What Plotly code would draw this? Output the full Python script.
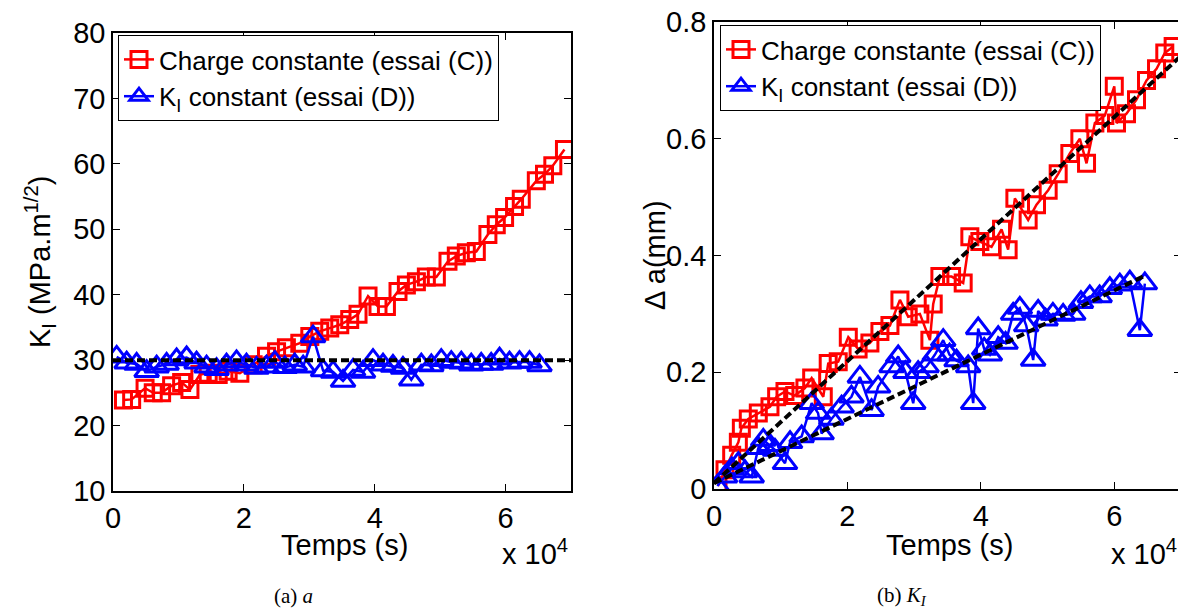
import plotly.graph_objects as go

# ---------------- data ----------------
# (a) K_I versus time
ka_t_red = [1600, 2850, 4900, 6150, 7430, 8960, 10490, 11760, 13280, 14550, 16080, 17600,
            19390, 21420, 23460, 25000, 26500, 28550, 30080, 31600, 33130, 34660, 36180,
            37450, 38980, 40500, 41790, 43560, 44840, 46370, 47890, 49420, 51200, 52470,
            54000, 55530, 57300, 58580, 59850, 61370, 62400, 64700, 65950, 67220, 69000]
ka_k_red = [23.9, 24.0, 25.7, 25.0, 25.0, 26.1, 26.6, 25.5, 27.8, 28.0, 27.8, 28.3,
            28.0, 29.3, 30.6, 31.3, 31.9, 32.6, 33.6, 34.4, 34.9, 35.4, 36.2,
            37.0, 39.8, 38.2, 38.2, 40.5, 41.5, 42.0, 42.7, 42.7, 45.1, 45.9,
            46.4, 46.6, 49.2, 50.7, 51.8, 53.5, 54.6, 57.4, 58.4, 59.7, 62.2]
ka_t_blue = [560, 2090, 3610, 5140, 6670, 8190, 9720, 11250, 12770, 14300, 15830, 17350,
             18880, 20400, 21930, 23460, 24730, 26260, 27780, 29060, 30580, 32110, 33640,
             35160, 36690, 38210, 39740, 41270, 42790, 44320, 45590, 47120, 48650, 50170,
             51700, 53230, 54750, 56280, 57800, 59080, 60600, 62130, 63660, 65180]
ka_k_blue = [30.5, 29.6, 29.4, 28.3, 29.0, 29.4, 30.1, 30.4, 29.6, 29.0, 28.6, 29.3,
             29.8, 29.3, 28.8, 29.0, 29.7, 28.9, 29.3, 29.0, 33.6, 28.4, 28.2,
             26.8, 28.5, 28.2, 30.0, 29.3, 29.1, 28.8, 27.0, 29.3, 29.2, 30.0,
             29.7, 29.6, 29.3, 29.4, 29.4, 30.2, 29.6, 29.7, 29.7, 29.2]
ka_ref_t = [0, 70000]
ka_ref_k = [30, 30]

# (b) crack extension versus time
da_t_red = [600, 1650, 2650, 3650, 4100, 5140, 6640, 8390, 9390, 10640, 12100, 13630,
            14640, 16380, 17120, 18620, 20130, 21600, 23370, 24870, 26370, 27870, 29110,
            30860, 32360, 32860, 33860, 35610, 37350, 38350, 39850, 41600, 43100, 44090,
            45100, 47090, 48340, 50090, 51590, 53340, 54840, 55840, 57090, 58590, 60000,
            60330, 61830, 63330, 64830, 66330, 67570, 68820]
da_a_red = [0.005, 0.033, 0.058, 0.080, 0.104, 0.120, 0.130, 0.141, 0.158, 0.167, 0.160, 0.173,
            0.190, 0.158, 0.215, 0.218, 0.260, 0.240, 0.250, 0.270, 0.280, 0.324, 0.295,
            0.300, 0.255, 0.317, 0.364, 0.364, 0.353, 0.432, 0.424, 0.415, 0.445, 0.410,
            0.498, 0.461, 0.487, 0.512, 0.540, 0.575, 0.600, 0.558, 0.627, 0.640, 0.690,
            0.627, 0.643, 0.667, 0.700, 0.720, 0.747, 0.758]
da_t_blue = [500, 1650, 2650, 3650, 4650, 5650, 6640, 7390, 8400, 9140, 10640, 11400,
             13140, 14640, 15600, 16130, 17600, 19130, 20600, 21870, 23620, 24600, 26620,
             27610, 28700, 29860, 30600, 31860, 33100, 34360, 35300, 36360, 38100, 38850,
             39600, 40500, 41350, 42600, 43700, 44840, 45840, 46800, 47840, 48590, 49700,
             50800, 52330, 53840, 55000, 56330, 57800, 59330, 60830, 62330, 63830, 64580]
da_a_blue = [0.005, 0.021, 0.035, 0.044, 0.030, 0.021, 0.070, 0.084, 0.075, 0.067, 0.044, 0.080,
             0.090, 0.147, 0.130, 0.095, 0.120, 0.141, 0.158, 0.192, 0.135, 0.175, 0.210,
             0.227, 0.200, 0.147, 0.200, 0.210, 0.230, 0.255, 0.230, 0.220, 0.210, 0.147,
             0.275, 0.240, 0.230, 0.260, 0.250, 0.300, 0.310, 0.280, 0.221, 0.305, 0.290,
             0.300, 0.298, 0.300, 0.320, 0.330, 0.330, 0.344, 0.350, 0.355, 0.272, 0.352]
fit_t_red = [0, 70000]
fit_a_red = [0.010, 0.742]
fit_t_blue = [0, 64500]
fit_a_blue = [0.010, 0.365]

x_ticks = [0, 20000, 40000, 60000]
x_ticktext = ["0", "2", "4", "6"]
ka_ticks = [10, 20, 30, 40, 50, 60, 70, 80]
da_ticks = [0, 0.2, 0.4, 0.6, 0.8]
da_ticktext = ["0", "0.2", "0.4", "0.6", "0.8"]

name_red = "Charge constante (essai (C))"
name_blue = "K<sub>I</sub> constant (essai (D))"

# ---------------- figure ----------------
OFF = 8                      # page body margin
W, H = 1186 - OFF, 611 - OFF
RED, BLUE = "#ff0000", "#0000ff"
FONT = "Liberation Sans, Arial, sans-serif"


def fx(x):
    return (x - OFF) / W


def fy(y):
    return 1 - (y - OFF) / H


fig = go.Figure()


def red_trace(x, y, xa, ya, leg):
    return go.Scatter(x=x, y=y, xaxis=xa, yaxis=ya, mode="lines+markers", name=name_red,
                      legend=leg, line=dict(color=RED, width=2.5),
                      marker=dict(symbol="square-open", size=16, color=RED, line=dict(width=3)))


def blue_trace(x, y, xa, ya, leg):
    return go.Scatter(x=x, y=y, xaxis=xa, yaxis=ya, mode="lines+markers", name=name_blue,
                      legend=leg, line=dict(color=BLUE, width=2.5),
                      marker=dict(symbol="triangle-up-open", size=21, color=BLUE, line=dict(width=3)))


fig.add_trace(red_trace(ka_t_red, ka_k_red, "x", "y", "legend"))
fig.add_trace(blue_trace(ka_t_blue, ka_k_blue, "x", "y", "legend"))
fig.add_trace(go.Scatter(x=ka_ref_t, y=ka_ref_k, xaxis="x", yaxis="y", mode="lines",
                         showlegend=False, line=dict(color="black", width=4, dash="8px,4px")))

fig.add_trace(red_trace(da_t_red, da_a_red, "x2", "y2", "legend2"))
fig.add_trace(blue_trace(da_t_blue, da_a_blue, "x2", "y2", "legend2"))
fig.add_trace(go.Scatter(x=fit_t_red, y=fit_a_red, xaxis="x2", yaxis="y2", mode="lines",
                         showlegend=False, line=dict(color="black", width=4, dash="8px,4px")))
fig.add_trace(go.Scatter(x=fit_t_blue, y=fit_a_blue, xaxis="x2", yaxis="y2", mode="lines",
                         showlegend=False, line=dict(color="black", width=4, dash="8px,4px")))

axis_common = dict(showgrid=False, zeroline=False, showline=True, linecolor="black",
                   linewidth=1.5, mirror="allticks", ticks="inside", ticklen=7,
                   tickcolor="black", tickwidth=1, automargin=False,
                   ticklabeloverflow="allow",
                   tickfont=dict(size=29, color="black", family=FONT))

fig.update_layout(
    width=W, height=H, margin=dict(l=0, r=0, t=0, b=0, pad=0, autoexpand=False),
    paper_bgcolor="white", plot_bgcolor="white",
    font=dict(family=FONT, color="black"),
    xaxis=dict(domain=[fx(113), fx(571)], range=[0, 70000], tickvals=x_ticks,
               ticktext=x_ticktext, anchor="y", **axis_common),
    yaxis=dict(domain=[fy(491), fy(33)], range=[10, 80], tickvals=ka_ticks,
               anchor="x", **axis_common),
    xaxis2=dict(domain=[fx(714), fx(1181)], range=[0, 70000], tickvals=x_ticks,
                ticktext=x_ticktext, anchor="y2", **axis_common),
    yaxis2=dict(domain=[fy(489), fy(22)], range=[0, 0.8001], tickvals=da_ticks,
                ticktext=da_ticktext, anchor="x2", **axis_common),
    legend=dict(x=fx(118), y=fy(35), xanchor="left", yanchor="top",
                bgcolor="white", bordercolor="black", borderwidth=1,
                font=dict(size=26, color="black", family=FONT), tracegroupgap=0,
                itemwidth=30),
    legend2=dict(x=fx(720), y=fy(25), xanchor="left", yanchor="top",
                 bgcolor="white", bordercolor="black", borderwidth=1,
                 font=dict(size=26, color="black", family=FONT), tracegroupgap=0,
                 itemwidth=30),
)

ann = []


def text(x, y, s, size=29, angle=0, family=FONT, xanchor="center"):
    ann.append(dict(x=fx(x), y=fy(y), xref="paper", yref="paper", text=s,
                    showarrow=False, textangle=angle, xanchor=xanchor, yanchor="middle",
                    font=dict(size=size, color="black", family=family)))


text(344, 545, "Temps (s)")
text(949, 545, "Temps (s)")
text(535, 552, "x 10<sup>4</sup>")
text(1144, 552, "x 10<sup>4</sup>")
text(40, 262, "K<sub>I</sub> (MPa.m<sup>1/2</sup>)", angle=-90)
text(655, 255, "Δ a(mm)", angle=-90)
SERIF = "Liberation Serif, Times New Roman, serif"
text(293, 596, "(a) <i>a</i>", size=21, family=SERIF)
text(902, 596, "(b) <i>K<sub>I</sub></i>", size=21, family=SERIF)
fig.update_layout(annotations=ann)

fig.write_html("out.html")
